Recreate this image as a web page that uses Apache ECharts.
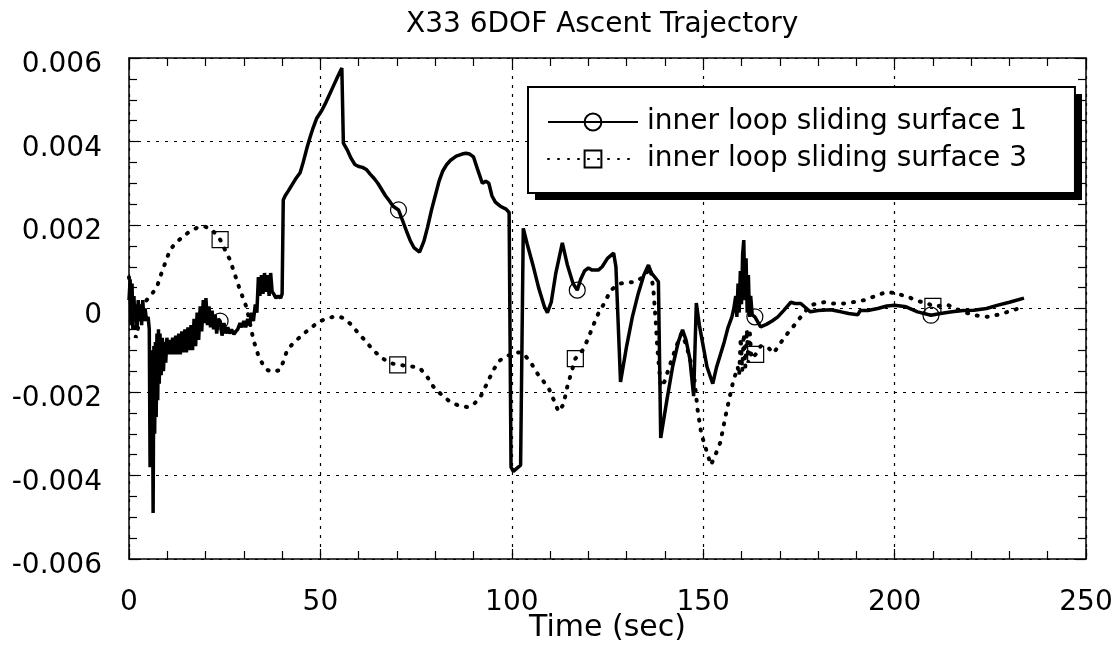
<!DOCTYPE html>
<html><head><meta charset="utf-8">
<script src="https://cdn.jsdelivr.net/npm/echarts@6/dist/echarts.min.js"></script>
<style>html,body{margin:0;padding:0;background:#fff}#c{width:1120px;height:645px}</style>
</head><body><div id="c"></div>
<script>
const chartTitle = 'X33 6DOF Ascent Trajectory';
const xAxisName = 'Time (sec)';
const xRange = [0, 250];
const xStep = 50;
const yRange = [-0.006, 0.006];
const yStep = 0.002;

const s1Name = 'inner loop sliding surface 1';
const s1Time = [0.0,0.3,0.5,0.8,1.0,1.3,1.5,1.8,2.1,2.4,2.7,3.0,3.3,3.6,3.9,4.2,4.6,5.0,5.3,5.5,5.7,5.9,6.1,6.3,6.5,6.7,6.9,7.1,7.3,7.5,7.7,7.9,8.1,8.4,8.7,9.0,9.3,9.6,9.9,10.3,
10.6,11.0,11.4,11.8,12.2,12.6,13.0,13.4,13.8,14.2,14.6,15.0,15.4,15.8,16.2,16.6,17.0,17.4,17.8,18.2,18.6,19.0,19.4,19.8,20.1,20.5,20.9,21.3,21.7,22.1,22.5,22.9,23.3,24.3,24.8,25.3,25.8,26.3,26.8,27.4,27.9,28.4,29.0,29.5,30.0,30.5,31.0,31.5,32.0,32.5,33.0,33.4,33.8,34.2,34.6,35.0,35.4,35.8,36.2,36.6,37.0,37.4,37.8,38.4,39.0,39.6,40.0,
40.3,40.8,41.5,42.5,43.5,44.7,45.5,46.5,47.3,48.0,49.0,50.4,51.5,52.5,53.5,54.5,55.6,56.0,57.0,58.0,59.0,60.0,61.0,62.0,63.0,64.0,65.0,66.0,67.0,68.0,69.0,71.5,72.5,73.5,74.5,75.9,77.0,78.0,79.0,80.0,81.0,82.0,83.0,84.0,85.5,87.0,88.0,89.0,90.0,91.0,92.3,93.2,94.0,94.8,95.7,97.0,98.5,99.3,99.8,100.4,102.3,103.0,
104.0,105.5,107.0,108.5,109.3,110.3,111.5,113.2,114.5,116.0,118.0,119.0,120.0,121.0,122.6,123.6,125.0,126.6,127.2,128.4,130.0,131.5,133.0,134.5,135.7,136.5,138.3,138.9,140.5,142.0,143.5,144.6,145.5,146.5,147.5,148.2,149.0,150.0,151.0,152.5,153.5,154.5,155.5,156.5,157.5,158.0,
158.5,158.8,159.1,159.4,159.7,160.0,160.3,160.6,160.9,161.2,161.5,161.8,162.1,162.4,162.8,165.0,166.5,168.0,169.5,171.0,172.9,174.0,175.5,177.0,178.0,180.0,183.3,186.0,188.0,190.4,191.0,193.0,195.6,198.0,200.0,203.0,206.0,212.0,215.0,218.0,220.7,224.0,227.0,230.0,233.8];
const s1Milli = [0.2,0.7,-0.4,0.6,-0.5,0.3,-0.3,0.1,-0.5,0.2,-0.3,0.1,-0.4,0.2,-0.3,0.0,-0.3,-0.2,-0.5,-3.8,-1.0,-3.6,-1.2,-4.9,-0.9,-3.0,-0.8,-2.6,-0.6,-2.2,-0.5,-1.8,-0.6,-1.6,-0.7,-1.5,-0.8,-1.3,-0.7,-1.1,
-0.75,-1.1,-0.7,-1.1,-0.65,-1.1,-0.6,-1.1,-0.55,-1.05,-0.5,-1.05,-0.45,-1.0,-0.4,-1.0,-0.25,-0.9,-0.1,-0.75,0.05,-0.55,0.2,-0.35,0.25,-0.4,0.05,-0.45,-0.05,-0.5,-0.15,-0.6,-0.25,-0.65,-0.35,-0.6,-0.45,-0.6,-0.5,-0.62,-0.55,-0.5,-0.35,-0.45,-0.3,-0.45,-0.25,-0.4,-0.1,-0.3,0.1,-0.1,0.75,0.3,0.8,0.35,0.85,0.4,0.8,0.3,0.85,0.4,0.35,0.25,0.3,0.25,0.35,
2.6,2.7,2.8,2.95,3.1,3.25,3.5,3.85,4.1,4.3,4.55,4.75,4.95,5.15,5.35,5.55,5.76,3.96,3.8,3.6,3.45,3.4,3.38,3.33,3.22,3.12,3.0,2.85,2.7,2.58,2.45,2.1,1.85,1.62,1.45,1.35,1.6,1.95,2.35,2.7,3.05,3.3,3.45,3.55,3.65,3.7,3.72,3.7,3.63,3.35,3.0,3.05,3.0,2.7,2.55,2.45,2.38,2.3,-3.8,-3.9,-3.75,1.92,
1.55,1.05,0.5,0.05,-0.1,0.15,0.85,1.57,1.05,0.6,0.7,0.9,0.97,0.92,0.92,1.0,1.2,1.33,1.0,-1.76,-0.9,-0.2,0.35,0.8,1.04,0.85,0.64,-3.1,-2.2,-1.4,-0.8,-0.51,-0.75,-1.2,-2.1,0.13,-0.4,-0.9,-1.4,-1.8,-1.4,-1.1,-0.8,-0.45,-0.2,0.0,
0.3,-0.2,0.6,-0.1,0.9,0.1,1.3,1.64,0.2,1.2,-0.1,0.8,-0.2,0.3,-0.15,-0.44,-0.38,-0.3,-0.2,-0.05,0.15,0.12,0.12,0.0,-0.08,-0.05,-0.03,-0.08,-0.12,-0.15,-0.05,-0.05,0.0,0.06,0.08,0.04,-0.08,-0.12,-0.08,-0.05,-0.04,0.0,0.08,0.15,0.25];
const s1MarkTime = [23.8, 70.4, 117.1, 163.5, 209.5];
const s1MarkMilli = [-0.3, 2.36, 0.44, -0.2, -0.16];

const s2Name = 'inner loop sliding surface 3';
const s2Time = [0.0,0.8,1.8,3.0,4.2,5.0,6.0,7.3,8.5,9.5,10.7,12.0,13.8,15.5,17.7,19.9,21.5,22.7,25.0,26.4,27.7,29.0,30.0,30.8,31.7,32.5,33.7,35.0,36.3,37.7,39.5,40.4,41.3,43.0,44.7,47.0,49.0,51.0,53.3,55.0,56.0,58.0,60.0,62.0,63.8,66.0,68.0,72.5,74.5,76.0,78.0,79.5,82.0,84.0,86.0,88.3,90.0,91.8,93.5,95.2,96.8,98.3,100.0,101.5,103.0,105.0,106.7,109.6,111.0,112.2,113.5,114.5,118.5,119.8,121.3,122.6,124.0,125.0,125.8,128.4,132.3,134.4,136.2,137.0,137.6,138.0,138.9,139.7,141.5,143.0,144.3,145.5,146.8,147.6,148.5,149.5,150.5,152.0,153.0,154.5,156.0,157.7,159.0,159.4,159.8,160.2,160.6,161.0,161.4,161.8,162.2,162.6,165.0,166.8,168.4,170.0,172.0,173.8,175.5,178.0,181.5,184.0,186.7,189.0,192.0,195.6,198.0,200.8,203.5,206.0,208.7,214.0,217.0,220.7,224.4,227.0,229.6,233.8];
const s2Milli = [0.75,0.0,-0.7,-0.2,0.15,0.25,0.35,0.52,0.85,1.1,1.4,1.55,1.7,1.82,1.93,1.96,1.9,1.78,1.42,1.16,0.8,0.44,0.2,0.0,-0.4,-0.75,-1.1,-1.35,-1.48,-1.52,-1.47,-1.25,-1.0,-0.82,-0.68,-0.5,-0.36,-0.26,-0.2,-0.2,-0.23,-0.38,-0.6,-0.8,-1.0,-1.18,-1.3,-1.37,-1.4,-1.43,-1.65,-1.87,-2.1,-2.24,-2.32,-2.36,-2.3,-2.12,-1.8,-1.47,-1.25,-1.15,-1.1,-1.05,-1.07,-1.3,-1.56,-1.9,-2.2,-2.47,-2.3,-1.87,-1.0,-0.75,-0.4,-0.12,0.1,0.28,0.44,0.6,0.64,0.76,0.97,0.44,-0.3,-0.92,-1.87,-1.8,-1.3,-0.9,-0.6,-0.85,-1.3,-1.6,-2.4,-3.0,-3.3,-3.75,-3.55,-3.2,-2.5,-1.8,-1.4,-1.6,-0.7,-1.5,-0.6,-1.4,-0.5,-1.3,-0.6,-1.2,-0.9,-0.92,-1.07,-0.85,-0.6,-0.4,-0.2,0.08,0.15,0.12,0.12,0.15,0.2,0.32,0.4,0.35,0.28,0.18,0.12,0.08,-0.05,-0.16,-0.2,-0.15,-0.08,0.04];
const s2MarkTime = [23.8, 70.2, 116.6, 163.7, 210.0];
const s2MarkMilli = [1.65, -1.35, -1.2, -1.1, 0.05];

function buildData(ts, ys, mts, mys) {
  const pts = [];
  ts.forEach((t, i) => pts.push({t: t, y: ys[i] * 1e-3, m: false}));
  mts.forEach((t, i) => pts.push({t: t, y: mys[i] * 1e-3, m: true}));
  pts.sort((a, b) => a.t - b.t);
  return pts.map(p => p.m ? {value: [p.t, p.y]} : {value: [p.t, p.y], symbol: 'none'});
}

const FONT = 'DejaVu Sans';
const chart = echarts.init(document.getElementById('c'), null, {renderer: 'canvas'});
const gridLine = {show: true, lineStyle: {color: '#000', width: 1.2, type: [3, 6]}};
const axisLine = {show: true, onZero: false, lineStyle: {color: '#000', width: 1.5}};
const markerStyle = {color: 'rgba(0,0,0,0)', borderColor: '#000', borderWidth: 1.2};

function xAx(pos, labels) {
  return {
    type: 'value', position: pos, min: xRange[0], max: xRange[1], interval: xStep,
    axisLine: axisLine,
    axisTick: {show: true, inside: true, length: 10, lineStyle: {color: '#000', width: 1.2}},
    minorTick: {show: true, splitNumber: 5, length: 8, lineStyle: {color: '#000', width: 1.2}},
    splitLine: labels ? gridLine : {show: false},
    axisLabel: labels ? {show: true, color: '#000', fontFamily: FONT, fontSize: 28, margin: 30} : {show: false},
    name: labels ? xAxisName : '', nameLocation: 'middle', nameGap: 54, nameMoveOverlap: false,
    nameTextStyle: {color: '#000', fontFamily: FONT, fontSize: 30}
  };
}
function yAx(pos, labels) {
  return {
    type: 'value', position: pos, min: yRange[0], max: yRange[1], interval: yStep,
    axisLine: axisLine,
    axisTick: {show: true, inside: true, length: 10, lineStyle: {color: '#000', width: 1.2}},
    minorTick: {show: true, splitNumber: 4, length: 8, lineStyle: {color: '#000', width: 1.2}},
    splitLine: labels ? gridLine : {show: false},
    axisLabel: labels ? {show: true, color: '#000', fontFamily: FONT, fontSize: 28, margin: 27,
      formatter: v => '{v|' + (Math.abs(v) < 1e-9 ? '0' : v.toFixed(3)) + '}',
      rich: {v: {color: '#000', fontFamily: FONT, fontSize: 28, padding: [14, 0, 0, 0]}}} : {show: false}
  };
}

chart.setOption({
  animation: false,
  backgroundColor: '#fff',
  title: {text: chartTitle, left: 401, top: 6,
    textStyle: {color: '#000', fontFamily: FONT, fontSize: 28, fontWeight: 'normal'}},
  grid: {left: 129, right: 34, top: 58, bottom: 86, containLabel: false, outerBoundsMode: 'none'},
  graphic: [{type: 'rect', z: 1, silent: true, shape: {x: 535, y: 94, width: 547, height: 106}, style: {fill: '#000'}}],
  legend: {
    orient: 'vertical', left: 528, top: 87, z: 10,
    data: [s1Name, s2Name],
    itemWidth: 90, itemHeight: 21, itemGap: 9,
    padding: [21, 48, 20, 19],
    backgroundColor: '#fff', borderColor: '#000', borderWidth: 2, borderRadius: 0,
    textStyle: {color: '#000', fontFamily: FONT, fontSize: 28, padding: [0, 0, 0, 4]}
  },
  xAxis: [xAx('bottom', true), xAx('top', false)],
  yAxis: [yAx('left', true), yAx('right', false)],
  series: [
    {name: s1Name, type: 'line', xAxisIndex: 0, yAxisIndex: 0,
     data: buildData(s1Time, s1Milli, s1MarkTime, s1MarkMilli),
     showSymbol: true, showAllSymbol: true, symbol: 'circle', symbolSize: 16,
     itemStyle: markerStyle,
     lineStyle: {color: '#000', width: 3.5}, z: 3},
    {name: s2Name, type: 'line', xAxisIndex: 0, yAxisIndex: 0,
     data: buildData(s2Time, s2Milli, s2MarkTime, s2MarkMilli),
     showSymbol: true, showAllSymbol: true, symbol: 'rect', symbolSize: 16,
     itemStyle: markerStyle,
     lineStyle: {color: '#000', width: 4, type: [1, 9], cap: 'round'}, z: 2}
  ]
});
</script></body></html>
